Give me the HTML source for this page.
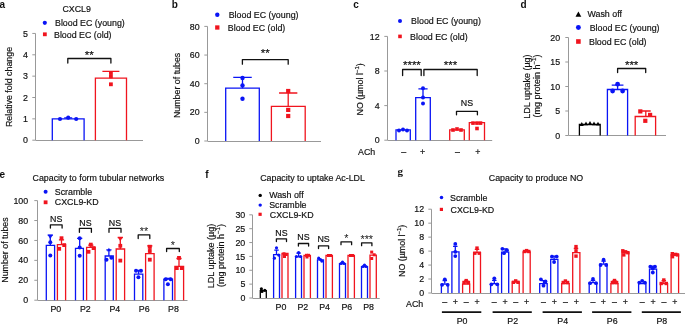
<!DOCTYPE html>
<html><head><meta charset="utf-8"><style>
html,body{margin:0;padding:0;background:#fff;width:685px;height:325px;overflow:hidden}
svg{display:block;will-change:transform}
text{stroke:#111;stroke-width:0.18px}
</style></head><body>
<svg width="685" height="325" viewBox="0 0 685 325">
<text x="-0.50" y="8.20" font-size="10" text-anchor="start" font-weight="bold" font-family="Liberation Sans" fill="#111111" style="stroke:none">a</text>
<text x="76.70" y="12.30" font-size="8.85" text-anchor="middle" font-weight="normal" font-family="Liberation Sans" fill="#111111">CXCL9</text>
<circle cx="44.80" cy="22.80" r="2.1" fill="#0a14f5"/>
<text x="55.00" y="25.70" font-size="8.85" text-anchor="start" font-weight="normal" font-family="Liberation Sans" fill="#111111">Blood EC (young)</text>
<rect x="42.95" y="32.40" width="3.8" height="3.8" fill="#f0141e"/>
<text x="54.00" y="37.60" font-size="8.85" text-anchor="start" font-weight="normal" font-family="Liberation Sans" fill="#111111">Blood EC (old)</text>
<line x1="35.50" y1="140.50" x2="143.00" y2="140.50" stroke="#999999" stroke-width="1.0"/>
<line x1="35.50" y1="33.45" x2="35.50" y2="140.20" stroke="#999999" stroke-width="1.0"/>
<line x1="32.30" y1="140.20" x2="35.50" y2="140.20" stroke="#999999" stroke-width="1.0"/>
<text x="27.90" y="143.30" font-size="8.85" text-anchor="end" font-weight="normal" font-family="Liberation Sans" fill="#111111">0</text>
<line x1="32.30" y1="118.85" x2="35.50" y2="118.85" stroke="#999999" stroke-width="1.0"/>
<text x="27.90" y="121.95" font-size="8.85" text-anchor="end" font-weight="normal" font-family="Liberation Sans" fill="#111111">1</text>
<line x1="32.30" y1="97.50" x2="35.50" y2="97.50" stroke="#999999" stroke-width="1.0"/>
<text x="27.90" y="100.60" font-size="8.85" text-anchor="end" font-weight="normal" font-family="Liberation Sans" fill="#111111">2</text>
<line x1="32.30" y1="76.15" x2="35.50" y2="76.15" stroke="#999999" stroke-width="1.0"/>
<text x="27.90" y="79.25" font-size="8.85" text-anchor="end" font-weight="normal" font-family="Liberation Sans" fill="#111111">3</text>
<line x1="32.30" y1="54.80" x2="35.50" y2="54.80" stroke="#999999" stroke-width="1.0"/>
<text x="27.90" y="57.90" font-size="8.85" text-anchor="end" font-weight="normal" font-family="Liberation Sans" fill="#111111">4</text>
<line x1="32.30" y1="33.45" x2="35.50" y2="33.45" stroke="#999999" stroke-width="1.0"/>
<text x="27.90" y="36.55" font-size="8.85" text-anchor="end" font-weight="normal" font-family="Liberation Sans" fill="#111111">5</text>
<text transform="translate(8.80,87.00) rotate(-90)" x="0" y="0" font-size="8.85" text-anchor="middle" font-family="Liberation Sans" fill="#111111" dominant-baseline="central">Relative fold change</text>
<path d="M52.30,140.20V118.85H84.10V140.20" stroke="#0a14f5" stroke-width="1.3" fill="none"/>
<path d="M68.20,119.20V117.90M64.20,117.90H72.20" stroke="#0a14f5" stroke-width="1.3" fill="none"/>
<circle cx="60.00" cy="119.00" r="2.1" fill="#0a14f5"/>
<circle cx="68.20" cy="117.70" r="2.1" fill="#0a14f5"/>
<circle cx="76.20" cy="119.00" r="2.1" fill="#0a14f5"/>
<path d="M95.40,140.20V78.20H126.50V140.20" stroke="#f0141e" stroke-width="1.3" fill="none"/>
<path d="M110.90,78.20V71.40M102.40,71.40H119.40" stroke="#f0141e" stroke-width="1.3" fill="none"/>
<rect x="109.00" y="71.00" width="3.8" height="3.8" fill="#f0141e"/>
<rect x="109.00" y="74.50" width="3.8" height="3.8" fill="#f0141e"/>
<rect x="109.00" y="82.40" width="3.8" height="3.8" fill="#f0141e"/>
<path d="M67.80,63.00V58.50H110.90V63.00" stroke="#111111" stroke-width="1.3" fill="none" stroke-linecap="round" stroke-linejoin="round"/>
<text x="89.35" y="58.78" font-size="11.5" text-anchor="middle" font-weight="normal" font-family="Liberation Sans" fill="#111111">**</text>
<text x="171.80" y="7.80" font-size="10" text-anchor="start" font-weight="bold" font-family="Liberation Sans" fill="#111111" style="stroke:none">b</text>
<circle cx="217.30" cy="14.80" r="2.2" fill="#0a14f5"/>
<text x="228.70" y="17.90" font-size="8.85" text-anchor="start" font-weight="normal" font-family="Liberation Sans" fill="#111111">Blood EC (young)</text>
<rect x="215.15" y="25.35" width="4.3" height="4.3" fill="#f0141e"/>
<text x="227.80" y="30.80" font-size="8.85" text-anchor="start" font-weight="normal" font-family="Liberation Sans" fill="#111111">Blood EC (old)</text>
<line x1="207.50" y1="141.50" x2="321.00" y2="141.50" stroke="#999999" stroke-width="1.0"/>
<line x1="207.50" y1="26.40" x2="207.50" y2="141.00" stroke="#999999" stroke-width="1.0"/>
<line x1="204.30" y1="141.00" x2="207.50" y2="141.00" stroke="#999999" stroke-width="1.0"/>
<text x="199.60" y="144.10" font-size="8.85" text-anchor="end" font-weight="normal" font-family="Liberation Sans" fill="#111111">0</text>
<line x1="204.30" y1="112.35" x2="207.50" y2="112.35" stroke="#999999" stroke-width="1.0"/>
<text x="199.60" y="115.45" font-size="8.85" text-anchor="end" font-weight="normal" font-family="Liberation Sans" fill="#111111">20</text>
<line x1="204.30" y1="83.70" x2="207.50" y2="83.70" stroke="#999999" stroke-width="1.0"/>
<text x="199.60" y="86.80" font-size="8.85" text-anchor="end" font-weight="normal" font-family="Liberation Sans" fill="#111111">40</text>
<line x1="204.30" y1="55.05" x2="207.50" y2="55.05" stroke="#999999" stroke-width="1.0"/>
<text x="199.60" y="58.15" font-size="8.85" text-anchor="end" font-weight="normal" font-family="Liberation Sans" fill="#111111">60</text>
<line x1="204.30" y1="26.40" x2="207.50" y2="26.40" stroke="#999999" stroke-width="1.0"/>
<text x="199.60" y="29.50" font-size="8.85" text-anchor="end" font-weight="normal" font-family="Liberation Sans" fill="#111111">80</text>
<text transform="translate(177.20,85.40) rotate(-90)" x="0" y="0" font-size="8.85" text-anchor="middle" font-family="Liberation Sans" fill="#111111" dominant-baseline="central">Number of tubes</text>
<path d="M225.70,141.00V88.20H259.30V141.00" stroke="#0a14f5" stroke-width="1.3" fill="none"/>
<path d="M242.50,88.20V77.30M233.25,77.30H251.75" stroke="#0a14f5" stroke-width="1.3" fill="none"/>
<circle cx="242.50" cy="78.00" r="2.2" fill="#0a14f5"/>
<circle cx="242.50" cy="85.40" r="2.2" fill="#0a14f5"/>
<circle cx="242.50" cy="98.70" r="2.2" fill="#0a14f5"/>
<path d="M271.40,141.00V106.30H305.20V141.00" stroke="#f0141e" stroke-width="1.3" fill="none"/>
<path d="M288.20,106.30V93.00M279.05,93.00H297.35" stroke="#f0141e" stroke-width="1.3" fill="none"/>
<rect x="286.10" y="88.90" width="4.2" height="4.2" fill="#f0141e"/>
<rect x="286.10" y="107.80" width="4.2" height="4.2" fill="#f0141e"/>
<rect x="286.10" y="113.90" width="4.2" height="4.2" fill="#f0141e"/>
<path d="M242.40,64.20V59.60H288.20V64.20" stroke="#111111" stroke-width="1.3" fill="none" stroke-linecap="round" stroke-linejoin="round"/>
<text x="265.30" y="56.98" font-size="11.5" text-anchor="middle" font-weight="normal" font-family="Liberation Sans" fill="#111111">**</text>
<text x="353.30" y="7.80" font-size="10" text-anchor="start" font-weight="bold" font-family="Liberation Sans" fill="#111111" style="stroke:none">c</text>
<circle cx="400.00" cy="20.90" r="2.0" fill="#0a14f5"/>
<text x="411.10" y="24.00" font-size="8.85" text-anchor="start" font-weight="normal" font-family="Liberation Sans" fill="#111111">Blood EC (young)</text>
<rect x="398.20" y="34.60" width="3.6" height="3.6" fill="#f0141e"/>
<text x="410.10" y="39.50" font-size="8.85" text-anchor="start" font-weight="normal" font-family="Liberation Sans" fill="#111111">Blood EC (old)</text>
<line x1="387.50" y1="140.50" x2="492.20" y2="140.50" stroke="#999999" stroke-width="1.0"/>
<line x1="387.50" y1="36.40" x2="387.50" y2="140.20" stroke="#999999" stroke-width="1.0"/>
<line x1="384.30" y1="140.20" x2="387.50" y2="140.20" stroke="#999999" stroke-width="1.0"/>
<text x="379.60" y="143.30" font-size="8.85" text-anchor="end" font-weight="normal" font-family="Liberation Sans" fill="#111111">0</text>
<line x1="384.30" y1="105.60" x2="387.50" y2="105.60" stroke="#999999" stroke-width="1.0"/>
<text x="379.60" y="108.70" font-size="8.85" text-anchor="end" font-weight="normal" font-family="Liberation Sans" fill="#111111">4</text>
<line x1="384.30" y1="71.00" x2="387.50" y2="71.00" stroke="#999999" stroke-width="1.0"/>
<text x="379.60" y="74.10" font-size="8.85" text-anchor="end" font-weight="normal" font-family="Liberation Sans" fill="#111111">8</text>
<line x1="384.30" y1="36.40" x2="387.50" y2="36.40" stroke="#999999" stroke-width="1.0"/>
<text x="379.60" y="39.50" font-size="8.85" text-anchor="end" font-weight="normal" font-family="Liberation Sans" fill="#111111">12</text>
<text transform="translate(359.70,89.40) rotate(-90)" x="0" y="0" font-size="8.85" text-anchor="middle" font-family="Liberation Sans" fill="#111111" dominant-baseline="central">NO (µmol l<tspan baseline-shift="super" font-size="6">−1</tspan>)</text>
<path d="M396.00,140.20V129.90H410.30V140.20" stroke="#0a14f5" stroke-width="1.3" fill="none"/>
<circle cx="399.00" cy="130.50" r="2.0" fill="#0a14f5"/>
<circle cx="403.00" cy="129.50" r="2.0" fill="#0a14f5"/>
<circle cx="407.00" cy="130.50" r="2.0" fill="#0a14f5"/>
<path d="M415.70,140.20V97.60H430.30V140.20" stroke="#0a14f5" stroke-width="1.3" fill="none"/>
<path d="M423.00,97.60V88.80M418.40,88.80H427.60" stroke="#0a14f5" stroke-width="1.3" fill="none"/>
<circle cx="423.00" cy="88.30" r="2.0" fill="#0a14f5"/>
<circle cx="423.00" cy="97.40" r="2.0" fill="#0a14f5"/>
<circle cx="423.00" cy="103.60" r="2.0" fill="#0a14f5"/>
<path d="M449.70,140.20V129.80H464.30V140.20" stroke="#f0141e" stroke-width="1.3" fill="none"/>
<rect x="451.20" y="128.20" width="3.6" height="3.6" fill="#f0141e"/>
<rect x="455.20" y="127.20" width="3.6" height="3.6" fill="#f0141e"/>
<rect x="459.20" y="128.20" width="3.6" height="3.6" fill="#f0141e"/>
<path d="M469.30,140.20V122.60H484.50V140.20" stroke="#f0141e" stroke-width="1.3" fill="none"/>
<rect x="471.20" y="121.30" width="3.6" height="3.6" fill="#f0141e"/>
<rect x="475.20" y="121.30" width="3.6" height="3.6" fill="#f0141e"/>
<rect x="478.70" y="121.30" width="3.6" height="3.6" fill="#f0141e"/>
<rect x="475.20" y="126.70" width="3.6" height="3.6" fill="#f0141e"/>
<path d="M402.60,75.50V69.50H421.20V75.50" stroke="#111111" stroke-width="1.3" fill="none" stroke-linecap="round" stroke-linejoin="round"/>
<text x="411.90" y="68.98" font-size="11.5" text-anchor="middle" font-weight="normal" font-family="Liberation Sans" fill="#111111">****</text>
<path d="M423.90,75.50V69.50H477.20V75.50" stroke="#111111" stroke-width="1.3" fill="none" stroke-linecap="round" stroke-linejoin="round"/>
<text x="450.55" y="68.98" font-size="11.5" text-anchor="middle" font-weight="normal" font-family="Liberation Sans" fill="#111111">***</text>
<path d="M456.50,114.80V111.30H477.40V114.80" stroke="#111111" stroke-width="1.3" fill="none" stroke-linecap="round" stroke-linejoin="round"/>
<text x="466.95" y="106.10" font-size="8.85" text-anchor="middle" font-weight="normal" font-family="Liberation Sans" fill="#111111">NS</text>
<text x="375.30" y="154.80" font-size="8.85" text-anchor="end" font-weight="normal" font-family="Liberation Sans" fill="#111111">ACh</text>
<text x="403.70" y="154.80" font-size="8.85" text-anchor="middle" font-weight="normal" font-family="Liberation Sans" fill="#111111">–</text>
<text x="422.70" y="154.80" font-size="8.85" text-anchor="middle" font-weight="normal" font-family="Liberation Sans" fill="#111111">+</text>
<text x="457.40" y="154.80" font-size="8.85" text-anchor="middle" font-weight="normal" font-family="Liberation Sans" fill="#111111">–</text>
<text x="477.90" y="154.80" font-size="8.85" text-anchor="middle" font-weight="normal" font-family="Liberation Sans" fill="#111111">+</text>
<text x="520.50" y="7.80" font-size="10" text-anchor="start" font-weight="bold" font-family="Liberation Sans" fill="#111111" style="stroke:none">d</text>
<path d="M575.50,16.81L578.40,11.59L581.30,16.81Z" fill="#000"/>
<text x="587.50" y="16.90" font-size="8.85" text-anchor="start" font-weight="normal" font-family="Liberation Sans" fill="#111111">Wash off</text>
<circle cx="578.40" cy="27.50" r="2.45" fill="#0a14f5"/>
<text x="589.70" y="30.80" font-size="8.85" text-anchor="start" font-weight="normal" font-family="Liberation Sans" fill="#111111">Blood EC (young)</text>
<rect x="576.10" y="39.20" width="4.6" height="4.6" fill="#f0141e"/>
<text x="589.00" y="45.00" font-size="8.85" text-anchor="start" font-weight="normal" font-family="Liberation Sans" fill="#111111">Blood EC (old)</text>
<line x1="568.50" y1="135.50" x2="666.00" y2="135.50" stroke="#999999" stroke-width="1.0"/>
<line x1="568.50" y1="37.50" x2="568.50" y2="135.50" stroke="#999999" stroke-width="1.0"/>
<line x1="565.30" y1="135.50" x2="568.50" y2="135.50" stroke="#999999" stroke-width="1.0"/>
<text x="560.20" y="138.60" font-size="8.85" text-anchor="end" font-weight="normal" font-family="Liberation Sans" fill="#111111">0</text>
<line x1="565.30" y1="111.00" x2="568.50" y2="111.00" stroke="#999999" stroke-width="1.0"/>
<text x="560.20" y="114.10" font-size="8.85" text-anchor="end" font-weight="normal" font-family="Liberation Sans" fill="#111111">5</text>
<line x1="565.30" y1="86.50" x2="568.50" y2="86.50" stroke="#999999" stroke-width="1.0"/>
<text x="560.20" y="89.60" font-size="8.85" text-anchor="end" font-weight="normal" font-family="Liberation Sans" fill="#111111">10</text>
<line x1="565.30" y1="62.00" x2="568.50" y2="62.00" stroke="#999999" stroke-width="1.0"/>
<text x="560.20" y="65.10" font-size="8.85" text-anchor="end" font-weight="normal" font-family="Liberation Sans" fill="#111111">15</text>
<line x1="565.30" y1="37.50" x2="568.50" y2="37.50" stroke="#999999" stroke-width="1.0"/>
<text x="560.20" y="40.60" font-size="8.85" text-anchor="end" font-weight="normal" font-family="Liberation Sans" fill="#111111">20</text>
<text transform="translate(526.90,86.60) rotate(-90)" x="0" y="0" font-size="9.0" text-anchor="middle" font-family="Liberation Sans" fill="#111111" dominant-baseline="central">LDL uptake (µg)</text>
<text transform="translate(537.40,86.00) rotate(-90)" x="0" y="0" font-size="9.0" text-anchor="middle" font-family="Liberation Sans" fill="#111111" dominant-baseline="central">(mg protein h<tspan baseline-shift="super" font-size="6">−1</tspan>)</text>
<path d="M579.40,135.50V124.50H600.20V135.50" stroke="#000" stroke-width="1.3" fill="none"/>
<path d="M579.70,125.89L581.80,122.11L583.90,125.89Z" fill="#000"/>
<path d="M583.90,125.19L586.00,121.41L588.10,125.19Z" fill="#000"/>
<path d="M587.90,124.69L590.00,120.91L592.10,124.69Z" fill="#000"/>
<path d="M591.90,125.19L594.00,121.41L596.10,125.19Z" fill="#000"/>
<path d="M595.90,125.49L598.00,121.71L600.10,125.49Z" fill="#000"/>
<path d="M607.40,135.50V89.50H627.60V135.50" stroke="#0a14f5" stroke-width="1.3" fill="none"/>
<path d="M617.60,89.10V85.10M611.75,85.10H623.45" stroke="#0a14f5" stroke-width="1.3" fill="none"/>
<circle cx="617.60" cy="84.20" r="2.4" fill="#0a14f5"/>
<circle cx="612.60" cy="91.00" r="2.4" fill="#0a14f5"/>
<circle cx="622.60" cy="91.00" r="2.4" fill="#0a14f5"/>
<path d="M635.20,135.50V116.50H655.60V135.50" stroke="#f0141e" stroke-width="1.3" fill="none"/>
<path d="M645.80,116.50V111.00M640.90,111.00H650.70" stroke="#f0141e" stroke-width="1.3" fill="none"/>
<rect x="638.20" y="109.30" width="4.2" height="4.2" fill="#f0141e"/>
<rect x="648.00" y="112.80" width="4.2" height="4.2" fill="#f0141e"/>
<rect x="643.20" y="118.70" width="4.2" height="4.2" fill="#f0141e"/>
<path d="M617.60,72.50V68.50H645.70V72.50" stroke="#111111" stroke-width="1.3" fill="none" stroke-linecap="round" stroke-linejoin="round"/>
<text x="631.65" y="68.78" font-size="11.5" text-anchor="middle" font-weight="normal" font-family="Liberation Sans" fill="#111111">***</text>
<text x="-0.50" y="177.60" font-size="10" text-anchor="start" font-weight="bold" font-family="Liberation Sans" fill="#111111" style="stroke:none">e</text>
<text x="32.50" y="181.10" font-size="8.85" text-anchor="start" font-weight="normal" font-family="Liberation Sans" fill="#111111">Capacity to form tubular networks</text>
<circle cx="45.60" cy="191.80" r="2.0" fill="#0a14f5"/>
<text x="54.80" y="194.90" font-size="8.85" text-anchor="start" font-weight="normal" font-family="Liberation Sans" fill="#111111">Scramble</text>
<rect x="43.70" y="200.40" width="3.8" height="3.8" fill="#f0141e"/>
<text x="54.80" y="205.40" font-size="8.85" text-anchor="start" font-weight="normal" font-family="Liberation Sans" fill="#111111">CXCL9-KD</text>
<line x1="37.50" y1="300.50" x2="187.50" y2="300.50" stroke="#999999" stroke-width="1.0"/>
<line x1="37.50" y1="200.60" x2="37.50" y2="300.20" stroke="#999999" stroke-width="1.0"/>
<line x1="34.30" y1="300.20" x2="37.50" y2="300.20" stroke="#999999" stroke-width="1.0"/>
<text x="28.20" y="303.30" font-size="8.85" text-anchor="end" font-weight="normal" font-family="Liberation Sans" fill="#111111">0</text>
<line x1="34.30" y1="280.28" x2="37.50" y2="280.28" stroke="#999999" stroke-width="1.0"/>
<text x="28.20" y="283.38" font-size="8.85" text-anchor="end" font-weight="normal" font-family="Liberation Sans" fill="#111111">20</text>
<line x1="34.30" y1="260.36" x2="37.50" y2="260.36" stroke="#999999" stroke-width="1.0"/>
<text x="28.20" y="263.46" font-size="8.85" text-anchor="end" font-weight="normal" font-family="Liberation Sans" fill="#111111">40</text>
<line x1="34.30" y1="240.44" x2="37.50" y2="240.44" stroke="#999999" stroke-width="1.0"/>
<text x="28.20" y="243.54" font-size="8.85" text-anchor="end" font-weight="normal" font-family="Liberation Sans" fill="#111111">60</text>
<line x1="34.30" y1="220.52" x2="37.50" y2="220.52" stroke="#999999" stroke-width="1.0"/>
<text x="28.20" y="223.62" font-size="8.85" text-anchor="end" font-weight="normal" font-family="Liberation Sans" fill="#111111">80</text>
<line x1="34.30" y1="200.60" x2="37.50" y2="200.60" stroke="#999999" stroke-width="1.0"/>
<text x="28.20" y="203.70" font-size="8.85" text-anchor="end" font-weight="normal" font-family="Liberation Sans" fill="#111111">100</text>
<text transform="translate(4.60,250.00) rotate(-90)" x="0" y="0" font-size="8.85" text-anchor="middle" font-family="Liberation Sans" fill="#111111" dominant-baseline="central">Number of tubes</text>
<path d="M46.30,300.20V245.40H54.60V300.20" stroke="#0a14f5" stroke-width="1.3" fill="none"/>
<path d="M57.40,300.20V244.60H65.60V300.20" stroke="#f0141e" stroke-width="1.3" fill="none"/>
<text x="55.80" y="311.70" font-size="8.85" text-anchor="middle" font-weight="normal" font-family="Liberation Sans" fill="#111111">P0</text>
<path d="M75.50,300.20V248.30H83.40V300.20" stroke="#0a14f5" stroke-width="1.3" fill="none"/>
<path d="M86.60,300.20V247.40H95.20V300.20" stroke="#f0141e" stroke-width="1.3" fill="none"/>
<text x="85.30" y="311.70" font-size="8.85" text-anchor="middle" font-weight="normal" font-family="Liberation Sans" fill="#111111">P2</text>
<path d="M105.20,300.20V256.00H113.30V300.20" stroke="#0a14f5" stroke-width="1.3" fill="none"/>
<path d="M116.20,300.20V249.00H124.60V300.20" stroke="#f0141e" stroke-width="1.3" fill="none"/>
<text x="114.80" y="311.70" font-size="8.85" text-anchor="middle" font-weight="normal" font-family="Liberation Sans" fill="#111111">P4</text>
<path d="M134.50,300.20V274.10H142.80V300.20" stroke="#0a14f5" stroke-width="1.3" fill="none"/>
<path d="M145.60,300.20V253.60H154.10V300.20" stroke="#f0141e" stroke-width="1.3" fill="none"/>
<text x="144.20" y="311.70" font-size="8.85" text-anchor="middle" font-weight="normal" font-family="Liberation Sans" fill="#111111">P6</text>
<path d="M163.90,300.20V279.10H172.50V300.20" stroke="#0a14f5" stroke-width="1.3" fill="none"/>
<path d="M174.90,300.20V266.40H183.60V300.20" stroke="#f0141e" stroke-width="1.3" fill="none"/>
<text x="173.50" y="311.70" font-size="8.85" text-anchor="middle" font-weight="normal" font-family="Liberation Sans" fill="#111111">P8</text>
<path d="M50.30,245.40V235.20M47.70,235.20H52.90" stroke="#0a14f5" stroke-width="1.3" fill="none"/>
<path d="M47.60,234.80L53.00,234.80L50.30,239.00Z" fill="#0a14f5"/>
<circle cx="50.30" cy="242.30" r="2.0" fill="#0a14f5"/>
<circle cx="50.30" cy="255.50" r="2.0" fill="#0a14f5"/>
<path d="M61.50,244.60V239.80M58.90,239.80H64.10" stroke="#f0141e" stroke-width="1.3" fill="none"/>
<rect x="59.60" y="236.30" width="3.8" height="3.8" fill="#f0141e"/>
<rect x="62.30" y="243.20" width="3.8" height="3.8" fill="#f0141e"/>
<rect x="57.30" y="246.90" width="3.8" height="3.8" fill="#f0141e"/>
<path d="M79.70,248.30V238.30M77.10,238.30H82.30" stroke="#0a14f5" stroke-width="1.3" fill="none"/>
<circle cx="79.70" cy="238.30" r="2.0" fill="#0a14f5"/>
<circle cx="79.70" cy="247.40" r="2.0" fill="#0a14f5"/>
<circle cx="79.70" cy="255.70" r="2.0" fill="#0a14f5"/>
<path d="M90.80,247.40V245.10M88.20,245.10H93.40" stroke="#f0141e" stroke-width="1.3" fill="none"/>
<rect x="88.90" y="242.70" width="3.8" height="3.8" fill="#f0141e"/>
<rect x="91.70" y="246.20" width="3.8" height="3.8" fill="#f0141e"/>
<rect x="86.60" y="249.90" width="3.8" height="3.8" fill="#f0141e"/>
<path d="M108.90,256.00V249.90M106.30,249.90H111.50" stroke="#0a14f5" stroke-width="1.3" fill="none"/>
<path d="M106.90,251.30L108.90,247.70L110.90,251.30Z" fill="#0a14f5"/>
<circle cx="106.50" cy="259.70" r="2.0" fill="#0a14f5"/>
<circle cx="111.40" cy="257.80" r="2.0" fill="#0a14f5"/>
<path d="M120.30,249.00V237.50M117.70,237.50H122.90" stroke="#f0141e" stroke-width="1.3" fill="none"/>
<path d="M117.60,237.10L123.00,237.10L120.30,241.30Z" fill="#f0141e"/>
<rect x="118.40" y="243.90" width="3.8" height="3.8" fill="#f0141e"/>
<rect x="118.40" y="258.70" width="3.8" height="3.8" fill="#f0141e"/>
<path d="M138.60,274.10V270.50M136.00,270.50H141.20" stroke="#0a14f5" stroke-width="1.3" fill="none"/>
<circle cx="136.00" cy="270.80" r="2.0" fill="#0a14f5"/>
<circle cx="141.00" cy="270.80" r="2.0" fill="#0a14f5"/>
<circle cx="138.40" cy="277.20" r="2.0" fill="#0a14f5"/>
<path d="M149.80,253.60V245.80M147.20,245.80H152.40" stroke="#f0141e" stroke-width="1.3" fill="none"/>
<rect x="147.80" y="244.80" width="4.0" height="4.0" fill="#f0141e"/>
<rect x="147.90" y="249.10" width="3.8" height="3.8" fill="#f0141e"/>
<rect x="147.90" y="257.80" width="3.8" height="3.8" fill="#f0141e"/>
<path d="M168.20,279.10V278.40M165.60,278.40H170.80" stroke="#0a14f5" stroke-width="1.3" fill="none"/>
<circle cx="165.70" cy="279.30" r="2.0" fill="#0a14f5"/>
<circle cx="170.70" cy="279.30" r="2.0" fill="#0a14f5"/>
<circle cx="167.90" cy="284.30" r="2.0" fill="#0a14f5"/>
<path d="M179.00,266.40V258.50M176.40,258.50H181.60" stroke="#f0141e" stroke-width="1.3" fill="none"/>
<rect x="177.10" y="256.00" width="3.8" height="3.8" fill="#f0141e"/>
<rect x="174.90" y="266.20" width="3.8" height="3.8" fill="#f0141e"/>
<rect x="179.90" y="266.20" width="3.8" height="3.8" fill="#f0141e"/>
<path d="M50.40,228.10V224.80H62.10V228.10" stroke="#111111" stroke-width="1.3" fill="none" stroke-linecap="round" stroke-linejoin="round"/>
<text x="56.25" y="221.80" font-size="8.85" text-anchor="middle" font-weight="normal" font-family="Liberation Sans" fill="#111111">NS</text>
<path d="M79.40,232.30V228.40H91.40V232.30" stroke="#111111" stroke-width="1.3" fill="none" stroke-linecap="round" stroke-linejoin="round"/>
<text x="85.40" y="225.60" font-size="8.85" text-anchor="middle" font-weight="normal" font-family="Liberation Sans" fill="#111111">NS</text>
<path d="M109.00,232.30V228.40H121.00V232.30" stroke="#111111" stroke-width="1.3" fill="none" stroke-linecap="round" stroke-linejoin="round"/>
<text x="115.00" y="225.60" font-size="8.85" text-anchor="middle" font-weight="normal" font-family="Liberation Sans" fill="#111111">NS</text>
<path d="M138.20,238.60V234.90H149.80V238.60" stroke="#111111" stroke-width="1.3" fill="none" stroke-linecap="round" stroke-linejoin="round"/>
<text x="144.00" y="234.82" font-size="10.8" text-anchor="middle" font-weight="normal" font-family="Liberation Sans" fill="#111111" style="stroke:none">**</text>
<path d="M166.60,251.50V248.50H179.30V251.50" stroke="#111111" stroke-width="1.3" fill="none" stroke-linecap="round" stroke-linejoin="round"/>
<text x="172.95" y="248.62" font-size="10.8" text-anchor="middle" font-weight="normal" font-family="Liberation Sans" fill="#111111" style="stroke:none">*</text>
<text x="205.20" y="177.50" font-size="10" text-anchor="start" font-weight="bold" font-family="Liberation Sans" fill="#111111" style="stroke:none">f</text>
<text x="260.20" y="181.20" font-size="8.85" text-anchor="start" font-weight="normal" font-family="Liberation Sans" fill="#111111">Capacity to uptake Ac-LDL</text>
<circle cx="260.20" cy="195.40" r="1.7" fill="#000"/>
<text x="269.20" y="198.20" font-size="8.85" text-anchor="start" font-weight="normal" font-family="Liberation Sans" fill="#111111">Wash off</text>
<circle cx="260.20" cy="205.10" r="1.7" fill="#0a14f5"/>
<text x="269.20" y="207.80" font-size="8.85" text-anchor="start" font-weight="normal" font-family="Liberation Sans" fill="#111111">Scramble</text>
<rect x="258.50" y="212.70" width="3.2" height="3.2" fill="#f0141e"/>
<text x="269.80" y="217.60" font-size="8.85" text-anchor="start" font-weight="normal" font-family="Liberation Sans" fill="#111111">CXCL9-KD</text>
<line x1="252.50" y1="298.50" x2="379.70" y2="298.50" stroke="#999999" stroke-width="1.0"/>
<line x1="252.50" y1="214.84" x2="252.50" y2="298.00" stroke="#999999" stroke-width="1.0"/>
<line x1="249.30" y1="298.00" x2="252.50" y2="298.00" stroke="#999999" stroke-width="1.0"/>
<text x="245.30" y="301.10" font-size="8.85" text-anchor="end" font-weight="normal" font-family="Liberation Sans" fill="#111111">0</text>
<line x1="249.30" y1="284.14" x2="252.50" y2="284.14" stroke="#999999" stroke-width="1.0"/>
<text x="245.30" y="287.24" font-size="8.85" text-anchor="end" font-weight="normal" font-family="Liberation Sans" fill="#111111">5</text>
<line x1="249.30" y1="270.28" x2="252.50" y2="270.28" stroke="#999999" stroke-width="1.0"/>
<text x="245.30" y="273.38" font-size="8.85" text-anchor="end" font-weight="normal" font-family="Liberation Sans" fill="#111111">10</text>
<line x1="249.30" y1="256.42" x2="252.50" y2="256.42" stroke="#999999" stroke-width="1.0"/>
<text x="245.30" y="259.52" font-size="8.85" text-anchor="end" font-weight="normal" font-family="Liberation Sans" fill="#111111">15</text>
<line x1="249.30" y1="242.56" x2="252.50" y2="242.56" stroke="#999999" stroke-width="1.0"/>
<text x="245.30" y="245.66" font-size="8.85" text-anchor="end" font-weight="normal" font-family="Liberation Sans" fill="#111111">20</text>
<line x1="249.30" y1="228.70" x2="252.50" y2="228.70" stroke="#999999" stroke-width="1.0"/>
<text x="245.30" y="231.80" font-size="8.85" text-anchor="end" font-weight="normal" font-family="Liberation Sans" fill="#111111">25</text>
<line x1="249.30" y1="214.84" x2="252.50" y2="214.84" stroke="#999999" stroke-width="1.0"/>
<text x="245.30" y="217.94" font-size="8.85" text-anchor="end" font-weight="normal" font-family="Liberation Sans" fill="#111111">30</text>
<text transform="translate(211.40,256.00) rotate(-90)" x="0" y="0" font-size="9.0" text-anchor="middle" font-family="Liberation Sans" fill="#111111" dominant-baseline="central">LDL uptake (µg)</text>
<text transform="translate(221.00,255.50) rotate(-90)" x="0" y="0" font-size="9.0" text-anchor="middle" font-family="Liberation Sans" fill="#111111" dominant-baseline="central">(mg protein h<tspan baseline-shift="super" font-size="6">−1</tspan>)</text>
<path d="M260.30,298.00V290.60H266.30V298.00" stroke="#000" stroke-width="1.3" fill="none"/>
<circle cx="261.40" cy="288.80" r="1.6" fill="#000"/>
<circle cx="264.80" cy="290.30" r="1.6" fill="#000"/>
<circle cx="262.00" cy="291.50" r="1.6" fill="#000"/>
<path d="M273.60,298.00V254.60H279.50V298.00" stroke="#0a14f5" stroke-width="1.3" fill="none"/>
<path d="M282.00,298.00V253.50H288.00V298.00" stroke="#f0141e" stroke-width="1.3" fill="none"/>
<text x="281.00" y="310.40" font-size="8.85" text-anchor="middle" font-weight="normal" font-family="Liberation Sans" fill="#111111">P0</text>
<path d="M295.60,298.00V256.80H301.50V298.00" stroke="#0a14f5" stroke-width="1.3" fill="none"/>
<path d="M304.00,298.00V255.50H310.40V298.00" stroke="#f0141e" stroke-width="1.3" fill="none"/>
<text x="302.80" y="310.40" font-size="8.85" text-anchor="middle" font-weight="normal" font-family="Liberation Sans" fill="#111111">P2</text>
<path d="M317.50,298.00V259.90H323.50V298.00" stroke="#0a14f5" stroke-width="1.3" fill="none"/>
<path d="M326.00,298.00V255.50H332.40V298.00" stroke="#f0141e" stroke-width="1.3" fill="none"/>
<text x="324.60" y="310.40" font-size="8.85" text-anchor="middle" font-weight="normal" font-family="Liberation Sans" fill="#111111">P4</text>
<path d="M339.50,298.00V263.60H345.50V298.00" stroke="#0a14f5" stroke-width="1.3" fill="none"/>
<path d="M348.00,298.00V255.50H354.40V298.00" stroke="#f0141e" stroke-width="1.3" fill="none"/>
<text x="346.80" y="310.40" font-size="8.85" text-anchor="middle" font-weight="normal" font-family="Liberation Sans" fill="#111111">P6</text>
<path d="M361.50,298.00V266.70H367.50V298.00" stroke="#0a14f5" stroke-width="1.3" fill="none"/>
<path d="M370.00,298.00V255.20H376.30V298.00" stroke="#f0141e" stroke-width="1.3" fill="none"/>
<text x="368.60" y="310.40" font-size="8.85" text-anchor="middle" font-weight="normal" font-family="Liberation Sans" fill="#111111">P8</text>
<path d="M276.50,254.60V250.10M274.25,250.10H278.75" stroke="#0a14f5" stroke-width="1.3" fill="none"/>
<circle cx="276.50" cy="247.80" r="1.6" fill="#0a14f5"/>
<circle cx="274.40" cy="258.20" r="1.6" fill="#0a14f5"/>
<circle cx="278.70" cy="255.10" r="1.6" fill="#0a14f5"/>
<rect x="282.50" y="252.30" width="3" height="3" fill="#f0141e"/>
<rect x="284.80" y="253.00" width="3" height="3" fill="#f0141e"/>
<rect x="283.00" y="255.00" width="3" height="3" fill="#f0141e"/>
<path d="M298.60,256.80V253.10M296.35,253.10H300.85" stroke="#0a14f5" stroke-width="1.3" fill="none"/>
<circle cx="298.60" cy="252.60" r="1.6" fill="#0a14f5"/>
<circle cx="296.40" cy="256.50" r="1.6" fill="#0a14f5"/>
<circle cx="300.60" cy="256.50" r="1.6" fill="#0a14f5"/>
<rect x="305.00" y="253.80" width="3" height="3" fill="#f0141e"/>
<rect x="307.00" y="253.80" width="3" height="3" fill="#f0141e"/>
<rect x="305.50" y="255.50" width="3" height="3" fill="#f0141e"/>
<circle cx="318.70" cy="258.20" r="1.6" fill="#0a14f5"/>
<circle cx="321.80" cy="261.10" r="1.6" fill="#0a14f5"/>
<circle cx="320.50" cy="259.50" r="1.6" fill="#0a14f5"/>
<rect x="327.00" y="254.00" width="3" height="3" fill="#f0141e"/>
<rect x="329.00" y="254.00" width="3" height="3" fill="#f0141e"/>
<circle cx="341.00" cy="263.50" r="1.6" fill="#0a14f5"/>
<circle cx="344.00" cy="263.50" r="1.6" fill="#0a14f5"/>
<circle cx="342.50" cy="262.00" r="1.6" fill="#0a14f5"/>
<rect x="349.00" y="254.00" width="3" height="3" fill="#f0141e"/>
<rect x="351.00" y="254.00" width="3" height="3" fill="#f0141e"/>
<circle cx="363.00" cy="266.50" r="1.6" fill="#0a14f5"/>
<circle cx="366.00" cy="266.50" r="1.6" fill="#0a14f5"/>
<circle cx="364.50" cy="265.00" r="1.6" fill="#0a14f5"/>
<rect x="370.20" y="250.60" width="3" height="3" fill="#f0141e"/>
<rect x="372.70" y="253.30" width="3" height="3" fill="#f0141e"/>
<rect x="370.20" y="257.00" width="3" height="3" fill="#f0141e"/>
<path d="M276.40,241.60V238.80H286.50V241.60" stroke="#111111" stroke-width="1.3" fill="none" stroke-linecap="round" stroke-linejoin="round"/>
<text x="281.45" y="235.70" font-size="8.85" text-anchor="middle" font-weight="normal" font-family="Liberation Sans" fill="#111111">NS</text>
<path d="M298.40,246.10V243.50H308.60V246.10" stroke="#111111" stroke-width="1.3" fill="none" stroke-linecap="round" stroke-linejoin="round"/>
<text x="303.50" y="240.20" font-size="8.85" text-anchor="middle" font-weight="normal" font-family="Liberation Sans" fill="#111111">NS</text>
<path d="M318.50,248.50V245.90H328.60V248.50" stroke="#111111" stroke-width="1.3" fill="none" stroke-linecap="round" stroke-linejoin="round"/>
<text x="323.55" y="242.30" font-size="8.85" text-anchor="middle" font-weight="normal" font-family="Liberation Sans" fill="#111111">NS</text>
<path d="M341.00,244.70V241.80H351.60V244.70" stroke="#111111" stroke-width="1.3" fill="none" stroke-linecap="round" stroke-linejoin="round"/>
<text x="346.30" y="242.02" font-size="10.8" text-anchor="middle" font-weight="normal" font-family="Liberation Sans" fill="#111111" style="stroke:none">*</text>
<path d="M361.60,245.70V242.80H371.90V245.70" stroke="#111111" stroke-width="1.3" fill="none" stroke-linecap="round" stroke-linejoin="round"/>
<text x="366.75" y="242.72" font-size="10.8" text-anchor="middle" font-weight="normal" font-family="Liberation Sans" fill="#111111" style="stroke:none">***</text>
<text x="397.50" y="175.30" font-size="11" text-anchor="start" font-weight="bold" font-family="Liberation Serif" fill="#111111" style="stroke:none">g</text>
<text x="488.80" y="181.20" font-size="8.85" text-anchor="start" font-weight="normal" font-family="Liberation Sans" fill="#111111">Capacity to produce NO</text>
<circle cx="441.50" cy="197.40" r="1.75" fill="#0a14f5"/>
<text x="450.00" y="200.60" font-size="8.85" text-anchor="start" font-weight="normal" font-family="Liberation Sans" fill="#111111">Scramble</text>
<rect x="439.80" y="207.80" width="3.2" height="3.2" fill="#f0141e"/>
<text x="450.50" y="212.60" font-size="8.85" text-anchor="start" font-weight="normal" font-family="Liberation Sans" fill="#111111">CXCL9-KD</text>
<line x1="431.50" y1="293.50" x2="685.00" y2="293.50" stroke="#999999" stroke-width="1.0"/>
<line x1="431.50" y1="209.20" x2="431.50" y2="293.00" stroke="#999999" stroke-width="1.0"/>
<line x1="428.30" y1="293.00" x2="431.50" y2="293.00" stroke="#999999" stroke-width="1.0"/>
<text x="424.10" y="296.10" font-size="8.85" text-anchor="end" font-weight="normal" font-family="Liberation Sans" fill="#111111">0</text>
<line x1="428.30" y1="279.03" x2="431.50" y2="279.03" stroke="#999999" stroke-width="1.0"/>
<text x="424.10" y="282.13" font-size="8.85" text-anchor="end" font-weight="normal" font-family="Liberation Sans" fill="#111111">2</text>
<line x1="428.30" y1="265.07" x2="431.50" y2="265.07" stroke="#999999" stroke-width="1.0"/>
<text x="424.10" y="268.17" font-size="8.85" text-anchor="end" font-weight="normal" font-family="Liberation Sans" fill="#111111">4</text>
<line x1="428.30" y1="251.10" x2="431.50" y2="251.10" stroke="#999999" stroke-width="1.0"/>
<text x="424.10" y="254.20" font-size="8.85" text-anchor="end" font-weight="normal" font-family="Liberation Sans" fill="#111111">6</text>
<line x1="428.30" y1="237.14" x2="431.50" y2="237.14" stroke="#999999" stroke-width="1.0"/>
<text x="424.10" y="240.24" font-size="8.85" text-anchor="end" font-weight="normal" font-family="Liberation Sans" fill="#111111">8</text>
<line x1="428.30" y1="223.17" x2="431.50" y2="223.17" stroke="#999999" stroke-width="1.0"/>
<text x="424.10" y="226.27" font-size="8.85" text-anchor="end" font-weight="normal" font-family="Liberation Sans" fill="#111111">10</text>
<line x1="428.30" y1="209.20" x2="431.50" y2="209.20" stroke="#999999" stroke-width="1.0"/>
<text x="424.10" y="212.30" font-size="8.85" text-anchor="end" font-weight="normal" font-family="Liberation Sans" fill="#111111">12</text>
<text transform="translate(401.50,250.80) rotate(-90)" x="0" y="0" font-size="8.85" text-anchor="middle" font-family="Liberation Sans" fill="#111111" dominant-baseline="central">NO (µmol l<tspan baseline-shift="super" font-size="6">−1</tspan>)</text>
<text x="423.30" y="306.90" font-size="8.85" text-anchor="end" font-weight="normal" font-family="Liberation Sans" fill="#111111">ACh</text>
<path d="M441.40,293.00V284.10H448.00V293.00" stroke="#0a14f5" stroke-width="1.3" fill="none"/>
<text x="444.70" y="305.00" font-size="8.85" text-anchor="middle" font-weight="normal" font-family="Liberation Sans" fill="#111111">–</text>
<path d="M451.90,293.00V251.90H459.00V293.00" stroke="#0a14f5" stroke-width="1.3" fill="none"/>
<text x="455.45" y="305.00" font-size="8.85" text-anchor="middle" font-weight="normal" font-family="Liberation Sans" fill="#111111">+</text>
<path d="M462.60,293.00V284.10H469.70V293.00" stroke="#f0141e" stroke-width="1.3" fill="none"/>
<text x="466.15" y="305.00" font-size="8.85" text-anchor="middle" font-weight="normal" font-family="Liberation Sans" fill="#111111">–</text>
<path d="M473.60,293.00V252.60H480.50V293.00" stroke="#f0141e" stroke-width="1.3" fill="none"/>
<text x="477.05" y="305.00" font-size="8.85" text-anchor="middle" font-weight="normal" font-family="Liberation Sans" fill="#111111">+</text>
<path d="M441.90,312.1H481.30" stroke="#111111" stroke-width="1.7" fill="none"/>
<text x="462.10" y="323.70" font-size="8.85" text-anchor="middle" font-weight="normal" font-family="Liberation Sans" fill="#111111">P0</text>
<path d="M490.60,293.00V283.60H498.00V293.00" stroke="#0a14f5" stroke-width="1.3" fill="none"/>
<text x="494.30" y="305.00" font-size="8.85" text-anchor="middle" font-weight="normal" font-family="Liberation Sans" fill="#111111">–</text>
<path d="M501.60,293.00V252.20H508.70V293.00" stroke="#0a14f5" stroke-width="1.3" fill="none"/>
<text x="505.15" y="305.00" font-size="8.85" text-anchor="middle" font-weight="normal" font-family="Liberation Sans" fill="#111111">+</text>
<path d="M512.20,293.00V281.90H519.20V293.00" stroke="#f0141e" stroke-width="1.3" fill="none"/>
<text x="515.70" y="305.00" font-size="8.85" text-anchor="middle" font-weight="normal" font-family="Liberation Sans" fill="#111111">–</text>
<path d="M523.10,293.00V251.90H530.20V293.00" stroke="#f0141e" stroke-width="1.3" fill="none"/>
<text x="526.65" y="305.00" font-size="8.85" text-anchor="middle" font-weight="normal" font-family="Liberation Sans" fill="#111111">+</text>
<path d="M492.60,312.1H531.80" stroke="#111111" stroke-width="1.7" fill="none"/>
<text x="512.70" y="323.70" font-size="8.85" text-anchor="middle" font-weight="normal" font-family="Liberation Sans" fill="#111111">P2</text>
<path d="M539.70,293.00V283.60H547.20V293.00" stroke="#0a14f5" stroke-width="1.3" fill="none"/>
<text x="543.45" y="305.00" font-size="8.85" text-anchor="middle" font-weight="normal" font-family="Liberation Sans" fill="#111111">–</text>
<path d="M550.70,293.00V259.40H557.90V293.00" stroke="#0a14f5" stroke-width="1.3" fill="none"/>
<text x="554.30" y="305.00" font-size="8.85" text-anchor="middle" font-weight="normal" font-family="Liberation Sans" fill="#111111">+</text>
<path d="M561.70,293.00V283.60H569.20V293.00" stroke="#f0141e" stroke-width="1.3" fill="none"/>
<text x="565.45" y="305.00" font-size="8.85" text-anchor="middle" font-weight="normal" font-family="Liberation Sans" fill="#111111">–</text>
<path d="M572.70,293.00V252.60H579.90V293.00" stroke="#f0141e" stroke-width="1.3" fill="none"/>
<text x="576.30" y="305.00" font-size="8.85" text-anchor="middle" font-weight="normal" font-family="Liberation Sans" fill="#111111">+</text>
<path d="M542.60,312.1H581.90" stroke="#111111" stroke-width="1.7" fill="none"/>
<text x="562.75" y="323.70" font-size="8.85" text-anchor="middle" font-weight="normal" font-family="Liberation Sans" fill="#111111">P4</text>
<path d="M589.20,293.00V282.70H596.70V293.00" stroke="#0a14f5" stroke-width="1.3" fill="none"/>
<text x="592.95" y="305.00" font-size="8.85" text-anchor="middle" font-weight="normal" font-family="Liberation Sans" fill="#111111">–</text>
<path d="M599.90,293.00V264.10H607.00V293.00" stroke="#0a14f5" stroke-width="1.3" fill="none"/>
<text x="603.45" y="305.00" font-size="8.85" text-anchor="middle" font-weight="normal" font-family="Liberation Sans" fill="#111111">+</text>
<path d="M610.90,293.00V283.60H618.00V293.00" stroke="#f0141e" stroke-width="1.3" fill="none"/>
<text x="614.45" y="305.00" font-size="8.85" text-anchor="middle" font-weight="normal" font-family="Liberation Sans" fill="#111111">–</text>
<path d="M621.90,293.00V252.60H628.80V293.00" stroke="#f0141e" stroke-width="1.3" fill="none"/>
<text x="625.35" y="305.00" font-size="8.85" text-anchor="middle" font-weight="normal" font-family="Liberation Sans" fill="#111111">+</text>
<path d="M592.10,312.1H631.40" stroke="#111111" stroke-width="1.7" fill="none"/>
<text x="612.25" y="323.70" font-size="8.85" text-anchor="middle" font-weight="normal" font-family="Liberation Sans" fill="#111111">P6</text>
<path d="M638.60,293.00V283.60H645.90V293.00" stroke="#0a14f5" stroke-width="1.3" fill="none"/>
<text x="642.25" y="305.00" font-size="8.85" text-anchor="middle" font-weight="normal" font-family="Liberation Sans" fill="#111111">–</text>
<path d="M649.50,293.00V269.20H656.60V293.00" stroke="#0a14f5" stroke-width="1.3" fill="none"/>
<text x="653.05" y="305.00" font-size="8.85" text-anchor="middle" font-weight="normal" font-family="Liberation Sans" fill="#111111">+</text>
<path d="M660.50,293.00V283.60H667.60V293.00" stroke="#f0141e" stroke-width="1.3" fill="none"/>
<text x="664.05" y="305.00" font-size="8.85" text-anchor="middle" font-weight="normal" font-family="Liberation Sans" fill="#111111">–</text>
<path d="M671.10,293.00V254.80H678.60V293.00" stroke="#f0141e" stroke-width="1.3" fill="none"/>
<text x="674.85" y="305.00" font-size="8.85" text-anchor="middle" font-weight="normal" font-family="Liberation Sans" fill="#111111">+</text>
<path d="M641.80,312.1H680.90" stroke="#111111" stroke-width="1.7" fill="none"/>
<text x="661.85" y="323.70" font-size="8.85" text-anchor="middle" font-weight="normal" font-family="Liberation Sans" fill="#111111">P8</text>
<path d="M444.80,283.70V280.60M442.55,280.60H447.05" stroke="#0a14f5" stroke-width="1.3" fill="none"/>
<circle cx="444.80" cy="279.30" r="1.9" fill="#0a14f5"/>
<circle cx="442.10" cy="284.80" r="1.9" fill="#0a14f5"/>
<circle cx="447.70" cy="284.80" r="1.9" fill="#0a14f5"/>
<path d="M455.30,251.50V246.40M453.05,246.40H457.55" stroke="#0a14f5" stroke-width="1.3" fill="none"/>
<circle cx="455.30" cy="243.90" r="1.9" fill="#0a14f5"/>
<circle cx="455.30" cy="251.80" r="1.9" fill="#0a14f5"/>
<circle cx="455.30" cy="256.10" r="1.9" fill="#0a14f5"/>
<path d="M466.20,283.70V281.00M463.95,281.00H468.45" stroke="#f0141e" stroke-width="1.3" fill="none"/>
<rect x="462.30" y="280.80" width="3.4" height="3.4" fill="#f0141e"/>
<rect x="464.50" y="278.90" width="3.4" height="3.4" fill="#f0141e"/>
<rect x="466.70" y="280.80" width="3.4" height="3.4" fill="#f0141e"/>
<path d="M477.00,252.20V249.30M474.75,249.30H479.25" stroke="#f0141e" stroke-width="1.3" fill="none"/>
<rect x="475.30" y="246.40" width="3.4" height="3.4" fill="#f0141e"/>
<rect x="473.10" y="251.50" width="3.4" height="3.4" fill="#f0141e"/>
<rect x="477.60" y="251.50" width="3.4" height="3.4" fill="#f0141e"/>
<path d="M494.30,283.20V280.30M492.05,280.30H496.55" stroke="#0a14f5" stroke-width="1.3" fill="none"/>
<circle cx="494.30" cy="278.30" r="1.9" fill="#0a14f5"/>
<circle cx="491.40" cy="284.30" r="1.9" fill="#0a14f5"/>
<circle cx="497.20" cy="284.30" r="1.9" fill="#0a14f5"/>
<path d="M505.10,251.80V248.80M502.85,248.80H507.35" stroke="#0a14f5" stroke-width="1.3" fill="none"/>
<circle cx="502.40" cy="248.80" r="1.9" fill="#0a14f5"/>
<circle cx="507.00" cy="250.20" r="1.9" fill="#0a14f5"/>
<circle cx="504.00" cy="253.20" r="1.9" fill="#0a14f5"/>
<rect x="511.80" y="280.60" width="3.4" height="3.4" fill="#f0141e"/>
<rect x="514.00" y="279.20" width="3.4" height="3.4" fill="#f0141e"/>
<rect x="516.30" y="280.60" width="3.4" height="3.4" fill="#f0141e"/>
<rect x="522.80" y="249.80" width="3.4" height="3.4" fill="#f0141e"/>
<rect x="524.90" y="248.90" width="3.4" height="3.4" fill="#f0141e"/>
<rect x="527.10" y="249.80" width="3.4" height="3.4" fill="#f0141e"/>
<path d="M543.50,283.20V280.60M541.25,280.60H545.75" stroke="#0a14f5" stroke-width="1.3" fill="none"/>
<circle cx="540.90" cy="279.30" r="1.9" fill="#0a14f5"/>
<circle cx="545.50" cy="281.50" r="1.9" fill="#0a14f5"/>
<circle cx="543.50" cy="285.70" r="1.9" fill="#0a14f5"/>
<path d="M554.10,259.00V256.10M551.85,256.10H556.35" stroke="#0a14f5" stroke-width="1.3" fill="none"/>
<circle cx="551.90" cy="256.60" r="1.9" fill="#0a14f5"/>
<circle cx="556.70" cy="256.60" r="1.9" fill="#0a14f5"/>
<circle cx="554.10" cy="262.00" r="1.9" fill="#0a14f5"/>
<rect x="561.50" y="280.80" width="3.4" height="3.4" fill="#f0141e"/>
<rect x="563.70" y="279.30" width="3.4" height="3.4" fill="#f0141e"/>
<rect x="565.90" y="280.80" width="3.4" height="3.4" fill="#f0141e"/>
<path d="M576.00,252.20V248.50M573.75,248.50H578.25" stroke="#f0141e" stroke-width="1.3" fill="none"/>
<rect x="574.30" y="244.90" width="3.4" height="3.4" fill="#f0141e"/>
<rect x="574.30" y="249.30" width="3.4" height="3.4" fill="#f0141e"/>
<rect x="574.30" y="254.40" width="3.4" height="3.4" fill="#f0141e"/>
<path d="M593.00,282.30V280.30M590.75,280.30H595.25" stroke="#0a14f5" stroke-width="1.3" fill="none"/>
<circle cx="593.00" cy="278.90" r="1.9" fill="#0a14f5"/>
<circle cx="590.10" cy="283.20" r="1.9" fill="#0a14f5"/>
<circle cx="596.00" cy="283.20" r="1.9" fill="#0a14f5"/>
<path d="M603.60,263.70V261.20M601.35,261.20H605.85" stroke="#0a14f5" stroke-width="1.3" fill="none"/>
<circle cx="603.60" cy="259.70" r="1.9" fill="#0a14f5"/>
<circle cx="600.60" cy="265.00" r="1.9" fill="#0a14f5"/>
<circle cx="606.20" cy="265.00" r="1.9" fill="#0a14f5"/>
<path d="M614.50,283.20V281.00M612.25,281.00H616.75" stroke="#f0141e" stroke-width="1.3" fill="none"/>
<rect x="610.70" y="280.80" width="3.4" height="3.4" fill="#f0141e"/>
<rect x="612.80" y="278.80" width="3.4" height="3.4" fill="#f0141e"/>
<rect x="614.90" y="280.80" width="3.4" height="3.4" fill="#f0141e"/>
<rect x="621.10" y="249.10" width="3.4" height="3.4" fill="#f0141e"/>
<rect x="623.90" y="250.10" width="3.4" height="3.4" fill="#f0141e"/>
<rect x="626.20" y="251.00" width="3.4" height="3.4" fill="#f0141e"/>
<rect x="622.10" y="253.20" width="3.4" height="3.4" fill="#f0141e"/>
<circle cx="639.30" cy="282.60" r="1.9" fill="#0a14f5"/>
<circle cx="642.20" cy="280.80" r="1.9" fill="#0a14f5"/>
<circle cx="644.90" cy="282.60" r="1.9" fill="#0a14f5"/>
<path d="M652.80,268.80V266.20M650.55,266.20H655.05" stroke="#0a14f5" stroke-width="1.3" fill="none"/>
<circle cx="650.30" cy="266.70" r="1.9" fill="#0a14f5"/>
<circle cx="655.00" cy="266.70" r="1.9" fill="#0a14f5"/>
<circle cx="652.80" cy="272.50" r="1.9" fill="#0a14f5"/>
<circle cx="652.80" cy="268.60" r="1.9" fill="#0a14f5"/>
<path d="M663.80,283.20V280.60M661.55,280.60H666.05" stroke="#f0141e" stroke-width="1.3" fill="none"/>
<rect x="662.10" y="278.30" width="3.4" height="3.4" fill="#f0141e"/>
<rect x="659.50" y="281.80" width="3.4" height="3.4" fill="#f0141e"/>
<rect x="664.60" y="281.80" width="3.4" height="3.4" fill="#f0141e"/>
<rect x="670.60" y="252.00" width="3.4" height="3.4" fill="#f0141e"/>
<rect x="674.00" y="252.70" width="3.4" height="3.4" fill="#f0141e"/>
<rect x="675.80" y="253.20" width="3.4" height="3.4" fill="#f0141e"/>
<rect x="670.80" y="255.00" width="3.4" height="3.4" fill="#f0141e"/>
</svg>
</body></html>
